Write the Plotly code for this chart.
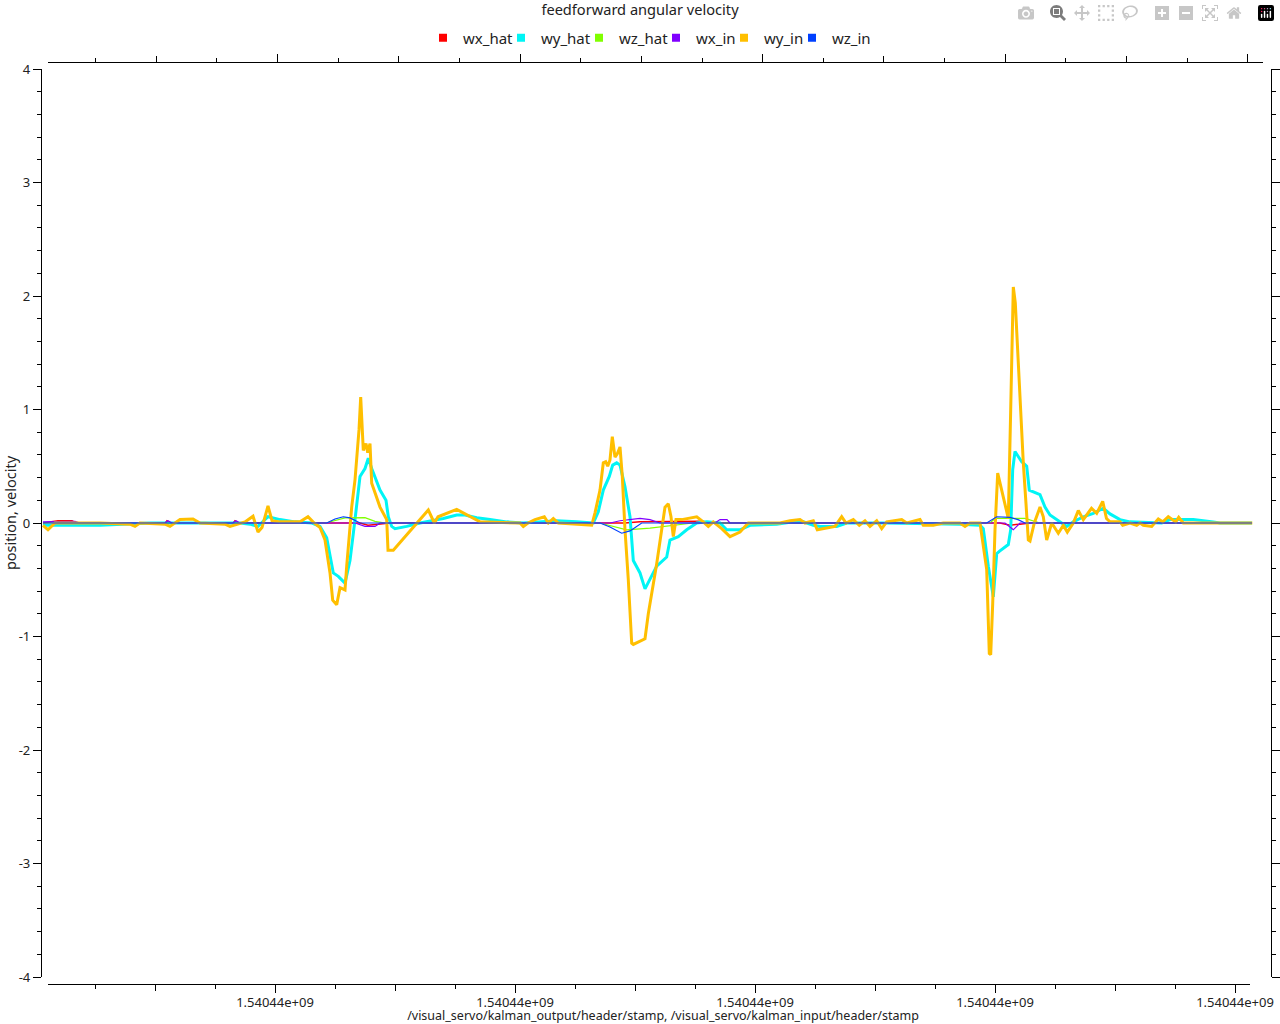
import plotly.graph_objects as go

T_BASE = 1540440000  # seconds; series times below are offsets from this

# ---------------- data (time offset [s], value) ----------------
wx_hat_pts = [(8,0),(23,0.02),(37,0.02),(41,0),(130,0),(132,0.02),(135,0),(198,0),(200,0.02),(203,0),
              (325,0),(333,-0.02),(343,-0.01),(355,0),(590,0),(605,0.01),(665,0.015),(685,0),
              (965,0),(975,-0.02),(985,-0.01),(995,0),(1217,0)]

wy_hat_pts = [(8,-0.02),(65,-0.02),(115,0.0),(205,0.0),(215,-0.01),(223,-0.03),(233,0.055),(245,0.03),(260,0.01),
              (277,0.0),(285,-0.03),(291.7,-0.13),(298.3,-0.44),(303.3,-0.47),(310,-0.53),(315,-0.33),(320,0.03),
              (325,0.41),(330,0.48),(333.3,0.57),(336.7,0.48),(345,0.29),(351,0.20),(353.3,0.055),(356.7,-0.03),
              (360,-0.05),(371.7,-0.03),(385,0.0),(408.3,0.04),(421.7,0.07),(430,0.07),(441.7,0.047),(455,0.03),
              (471.7,0.01),(488.3,0.0),(521.7,0.02),(541.7,0.01),(558.3,0.0),(563.3,0.10),(568.3,0.29),(574.3,0.41),
              (577.7,0.51),(581.7,0.53),(585,0.51),(590,0.32),(595,0.055),(598.3,-0.33),(605,-0.44),(610,-0.58),
              (615,-0.50),(621.7,-0.38),(631.7,-0.30),(635,-0.15),(643.3,-0.12),(651.7,-0.06),(661.7,0.0),
              (671.7,0.01),(685,0.0),(691.7,-0.06),(705,-0.06),(715,-0.02),(741.7,-0.01),(758.3,0.01),(768.3,0.01),
              (778.3,-0.02),(785,-0.03),(801.7,-0.03),(811.7,0.0),(851.7,0.0),(925,-0.01),(945,-0.02),(948.3,-0.05),
              (953.3,-0.38),(958.3,-0.65),(961.7,-0.27),(964.3,-0.25),(973.3,-0.19),(975.7,-0.06),(977.7,0.47),
              (980,0.63),(986.7,0.54),(991.7,0.50),(994.3,0.29),(1005,0.25),(1010,0.14),(1015,0.07),(1021.7,0.03),
              (1031.7,-0.03),(1038.3,0.01),(1048.3,0.055),(1058.3,0.085),(1068.3,0.13),(1075,0.08),(1085,0.03),
              (1095,0.01),(1126.7,0.0),(1135,0.03),(1158.3,0.03),(1178.3,0.01),(1185,0.0),(1217,0.0)]

wz_hat_pts = [(8,0),(291,0),(310,0.045),(330,0.047),(340,0.015),(350,0),(565,0),(591.7,-0.06),(615,-0.045),
              (635,-0.025),(658,0),(955,0),(960,0.04),(990,0.04),(1005,0),(1217,0)]

wx_in_pts = [(8,0.01),(25,0.015),(40,0.015),(45,0),(130,0),(133,0.02),(137,0),(198,0),(201,0.02),(205,0),
             (320,0),(330,-0.03),(340,-0.03),(345,0),(575,0),(585,0.02),(605,0.04),(615,0.03),(625,0),
             (680,0),(685,0.03),(692,0.03),(695,0),(970,0),(978.3,-0.06),(985,0),(1217,0)]

wy_in_pts = [(8,-0.02),(13,-0.06),(20,0.0),(65,0.0),(95,-0.01),(100,-0.03),(105,0.0),(130,-0.01),(135,-0.03),
             (145,0.03),(158,0.035),(165,0.0),(190,-0.01),(195,-0.03),(210,0.01),(218,0.06),(223,-0.08),(227,-0.04),
             (233,0.15),(237,0.02),(245,0.01),(265,0.01),(273,0.055),(278,0.01),(285,-0.04),(290,-0.15),(295,-0.44),
             (297.7,-0.68),(301.7,-0.72),(305,-0.57),(310,-0.59),(311.7,-0.38),(316.7,0.14),(320,0.38),(324,0.82),
             (325.7,1.11),(328.3,0.64),(331,0.70),(332.7,0.62),(335,0.70),(336.7,0.35),(345,0.14),(351.7,0.03),
             (353,-0.24),(358.3,-0.24),(381.7,0.0),(393.3,0.115),(399.3,0.0),(403,0.055),(421.7,0.12),(431.7,0.07),
             (445,0.01),(485,0.0),(488.3,-0.03),(493,0.0),(500,0.03),(509.3,0.055),(513.3,0.0),(518.3,0.04),
             (523.3,0.0),(556.7,-0.02),(560,0.09),(565,0.29),(568.3,0.53),(570.7,0.54),(572.7,0.50),(575,0.555),
             (577.3,0.76),(580,0.58),(582.3,0.61),(585,0.67),(587.3,0.41),(590,-0.06),(593.3,-0.50),(596.7,-1.06),
             (598.3,-1.07),(610,-1.02),(613.3,-0.80),(621.7,-0.36),(626.7,-0.03),(630,0.14),(633.3,0.17),(636,0.055),
             (638.3,-0.12),(641,0.03),(646.7,0.03),(661.7,0.055),(668.3,0.01),(673.3,-0.03),(678.3,0.01),
             (686.7,-0.05),(695,-0.12),(705,-0.08),(713.3,0.0),(745,0.0),(755,0.02),(765,0.03),(770,0.0),
             (778.3,0.02),(782.3,-0.06),(800,-0.03),(806.7,0.055),(811,0.0),(818.3,0.03),(824.3,-0.02),(830,0.02),
             (835,-0.03),(841.7,0.02),(846.7,-0.05),(851.7,0.01),(866.7,0.03),(871.7,0.0),(885,0.03),(888.3,-0.02),
             (898.3,-0.02),(908.3,0.0),(925,0.0),(930,-0.03),(935,0.0),(945,0.0),(951.7,-0.41),(954.3,-1.15),
             (955.7,-1.16),(957.7,-0.71),(960,-0.06),(962.7,0.44),(965,0.35),(973.3,0.04),(975.7,1.0),(978.3,2.08),
             (980.3,1.94),(982.3,1.59),(985,1.05),(988.3,0.53),(991,0.17),(993.3,-0.15),(995,-0.16),(999.3,0.0),
             (1005,0.14),(1008.3,0.055),(1011.7,-0.15),(1016.7,0.0),(1023.3,-0.09),(1028.3,-0.02),(1032.3,-0.08),
             (1038.3,0.0),(1043.3,0.11),(1048.3,0.03),(1056.5,0.13),(1061.7,0.085),(1067.7,0.19),(1071.5,0.04),
             (1075,0.01),(1085,0.01),(1087.7,-0.02),(1095,0.0),(1101.7,-0.02),(1105,0.0),(1108.3,-0.02),
             (1116.7,-0.03),(1123.3,0.035),(1127.7,0.01),(1133.3,0.055),(1140.7,0.01),(1143.7,0.05),(1148.3,0.0),
             (1217.3,0.0)]

wz_in_pts = [(8,0),(291.7,0),(300,0.035),(308.3,0.055),(315,0.045),(325,0),(565,0),(575,-0.035),(586.7,-0.09),
             (595,-0.07),(606.7,0),(951.7,0),(961.7,0.055),(975,0.05),(983,0.03),(990,0),(1217,0)]

series_names = ["wx_hat", "wy_hat", "wz_hat", "wx_in", "wy_in", "wz_in"]
series_pts = [wx_hat_pts, wy_hat_pts, wz_hat_pts, wx_in_pts, wy_in_pts, wz_in_pts]
series_colors = ["#ff0000", "#00f5f5", "#80ff00", "#8000ff", "#ffbf00", "#0040ff"]
series_widths = [1.5, 3, 1.2, 1.2, 3, 1.2]

x_tick_offsets = [240, 480, 720, 960, 1200]
x_tick_text = ["1.54044e+09"] * 5
y_tick_vals = [-4, -3, -2, -1, 0, 1, 2, 3, 4]
y_tick_text = ["-4", "-3", "-2", "-1", "0", "1", "2", "3", "4"]

X_TITLE = "/visual_servo/kalman_output/header/stamp, /visual_servo/kalman_input/header/stamp"
Y_TITLE = "position, velocity"
TITLE = "feedforward angular velocity"

# ---------------- figure ----------------
W, H = 1280, 1024
def px(x):
    return x / W
def py(y):
    return 1 - y / H

legend_ids = ["legend", "legend2", "legend3", "legend4", "legend5", "legend6"]
legend_text_x = [457, 535, 613, 690, 758, 826]   # pixel where each legend label starts (reference)

fig = go.Figure()
for name, pts, col, lw in zip(series_names, series_pts, series_colors, series_widths):
    fig.add_trace(go.Scatter(
        x=[T_BASE + p[0] for p in pts], y=[p[1] for p in pts],
        mode="lines", line=dict(color=col, width=lw),
        name=name, legendgroup=name, showlegend=False))
for name, col, lid in zip(series_names, series_colors, legend_ids):
    fig.add_trace(go.Scatter(
        x=[None], y=[None], mode="markers",
        marker=dict(symbol="square", size=8, color=col),
        name=name, legendgroup=name, showlegend=True, legend=lid))

# empty traces so the decorative frame axes get drawn
for xa, ya in [("x2", "y"), ("x3", "y"), ("x4", "y"), ("x5", "y"), ("x", "y2"), ("x", "y3")]:
    fig.add_trace(go.Scatter(x=[], y=[], xaxis=xa, yaxis=ya, showlegend=False, hoverinfo="skip"))

AX = "black"
LW = 1.3
xr = [T_BASE + 13, T_BASE + 1215]
xt_vals = [T_BASE + v for v in x_tick_offsets]
x_minor = [T_BASE + v for v in range(60, 1215, 60)]
x_mid = [T_BASE + v for v in range(120, 1215, 240)]

legends = {}
for lid, tx in zip(legend_ids, legend_text_x):
    legends[lid] = dict(orientation="h", x=px(tx - 34), xanchor="left", y=py(38), yanchor="middle",
                        font=dict(size=15, color="#222"), bgcolor="rgba(0,0,0,0)", borderwidth=0)

fig.update_layout(
    width=W, height=H,
    margin=dict(l=0, r=0, t=0, b=0, autoexpand=False),
    paper_bgcolor="white", plot_bgcolor="rgba(0,0,0,0)",
    font=dict(family="Noto Sans", size=13, color="#222"),
    title=dict(text=TITLE, x=0.5, xanchor="center",
               y=py(10), yanchor="middle", font=dict(size=14.6, color="#222")),
    showlegend=True,
    **legends,
    # data axis (hidden)
    xaxis=dict(domain=[px(41), px(1271)], range=[T_BASE + 6, T_BASE + 1236], visible=False),
    # left axis
    yaxis=dict(domain=[py(977), py(69)], range=[-4, 4], anchor="free", position=px(41), automargin=False,
               showline=True, linecolor=AX, linewidth=LW, zeroline=False, showgrid=False,
               tickmode="array", tickvals=y_tick_vals, ticktext=y_tick_text,
               ticks="outside", ticklen=8, tickcolor=AX, tickwidth=LW,
               minor=dict(ticks="outside", ticklen=4, dtick=0.2, tick0=0, tickcolor=AX, tickwidth=LW,
                          showgrid=False)),
    # hidden axis carrying the y title (centred like the reference)
    yaxis3=dict(domain=[py(957), py(69)], range=[-4, 4], anchor="free", position=px(41), automargin=False,
                showline=False, zeroline=False, showgrid=False, showticklabels=False,
                ticks="", title=dict(text=Y_TITLE, font=dict(size=14.5, color="#222"), standoff=26)),
    # right axis
    yaxis2=dict(domain=[py(977), py(69)], range=[-4, 4], anchor="free", position=px(1271),
                overlaying="y", side="right", automargin=False,
                showline=True, linecolor=AX, linewidth=LW, zeroline=False, showgrid=False,
                tickmode="array", tickvals=y_tick_vals, showticklabels=False,
                ticks="outside", ticklen=8, tickcolor=AX, tickwidth=LW,
                minor=dict(ticks="outside", ticklen=4, dtick=0.2, tick0=0, tickcolor=AX, tickwidth=LW,
                           showgrid=False)),
    # bottom axis
    xaxis2=dict(domain=[px(48), px(1250)], range=xr, anchor="free", position=py(984), automargin=False,
                showline=True, linecolor=AX, linewidth=LW, zeroline=False, showgrid=False,
                tickmode="array", tickvals=xt_vals, ticktext=x_tick_text, ticklabelstandoff=-2,
                ticks="outside", ticklen=8, tickcolor=AX, tickwidth=LW,
                minor=dict(ticks="outside", ticklen=4, tickmode="array", tickvals=x_minor,
                           tickcolor=AX, tickwidth=LW, showgrid=False)),
    # bottom axis, mid ticks + title (domain shifted so that the title is centred like the reference)
    xaxis4=dict(domain=[px(76), px(1250)], range=[xr[0] + 28, xr[1]], anchor="free", position=py(984),
                automargin=False,
                showline=False, zeroline=False, showgrid=False, showticklabels=False,
                tickmode="array", tickvals=x_mid, ticks="outside", ticklen=6, tickcolor=AX, tickwidth=LW,
                title=dict(text=X_TITLE, font=dict(size=12.5, color="#222"), standoff=23)),
    # top axis
    xaxis3=dict(domain=[px(48), px(1263)], range=xr, anchor="free", position=py(62), side="top",
                automargin=False,
                showline=True, linecolor=AX, linewidth=LW, zeroline=False, showgrid=False,
                tickmode="array", tickvals=xt_vals, showticklabels=False,
                ticks="outside", ticklen=8, tickcolor=AX, tickwidth=LW,
                minor=dict(ticks="outside", ticklen=4, tickmode="array", tickvals=x_minor,
                           tickcolor=AX, tickwidth=LW, showgrid=False)),
    xaxis5=dict(domain=[px(48), px(1263)], range=xr, anchor="free", position=py(62), side="top",
                automargin=False,
                showline=False, zeroline=False, showgrid=False, showticklabels=False,
                tickmode="array", tickvals=x_mid, ticks="outside", ticklen=6, tickcolor=AX, tickwidth=LW),
)

fig.write_html("out.html", post_script="document.body.style.margin='0';")
